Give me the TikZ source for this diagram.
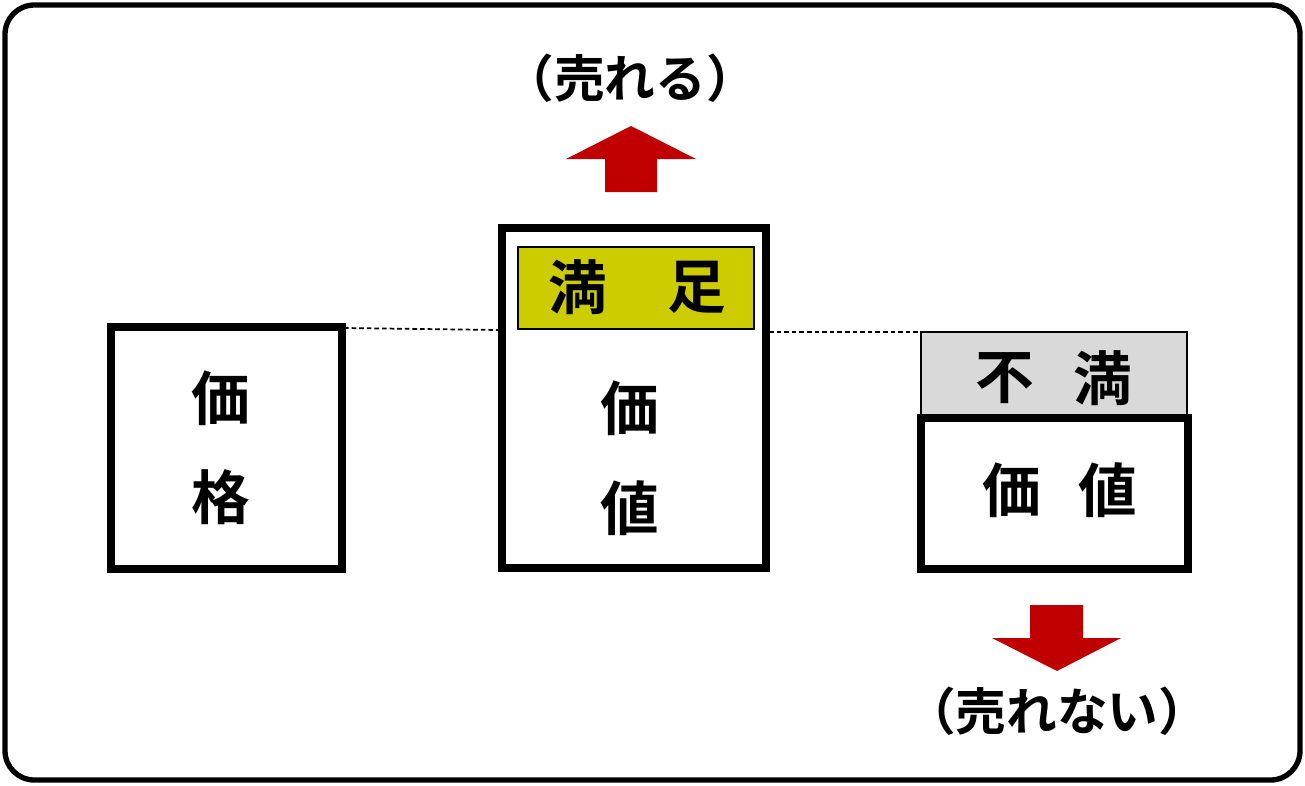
\documentclass[tikz,border=0pt]{standalone}
\usepackage{fontspec}
\newfontfamily\cjk{Noto Sans CJK JP}[BoldFont={Noto Sans CJK JP Bold}]
\definecolor{arrowred}{HTML}{C00000}
\definecolor{satis}{HTML}{CCCC00}
\definecolor{dissat}{HTML}{D9D9D9}
\begin{document}
\begin{tikzpicture}[x=0.75pt,y=-0.75pt,
  bigbox/.style={draw=black,line width=6pt,fill=white,outer sep=0pt,inner sep=0pt,anchor=north west},
  tagbox/.style={draw=black,line width=1.2pt,outer sep=0pt,inner sep=0pt,anchor=north west},
  bigtxt/.style={font=\cjk\bfseries\fontsize{44}{44}\selectfont,inner sep=0pt},
  lbltxt/.style={font=\cjk\bfseries\fontsize{38}{38}\selectfont,inner sep=0pt},
  guide/.style={dash pattern=on 3.5pt off 2.2pt,line width=1.3pt},
  redarrow/.style={fill=arrowred,draw=none}]
\useasboundingbox (0,0) rectangle (1305,785);
\draw[line width=4pt,rounded corners=22pt,fill=white] (5,5) rectangle (1300,780);
% left box
\node[bigbox,minimum width=231*0.75pt,minimum height=242*0.75pt] (price) at (110.5,326.5) {};
\node[bigtxt] (p1) at (221,398) {価};
\node[bigtxt] (p2) at (221,497) {格};
% middle box
\node[bigbox,minimum width=264*0.75pt,minimum height=340*0.75pt] (val) at (502,228) {};
\node[tagbox,fill=satis,minimum width=236*0.75pt,minimum height=82*0.75pt] (sat) at (518,247) {};
\node[bigtxt] (s1) at (578,287) {満};
\node[bigtxt] (s2) at (697,287) {足};
\node[bigtxt] (v1) at (630,408) {価};
\node[bigtxt] (v2) at (630,508) {値};
% right box
\node[tagbox,fill=dissat,minimum width=266*0.75pt,minimum height=83*0.75pt] (dis) at (921,332) {};
\node[bigbox,minimum width=267*0.75pt,minimum height=151*0.75pt] (val2) at (921,418) {};
\node[bigtxt] (d1) at (1005,378) {不};
\node[bigtxt] (d2) at (1103,378) {満};
\node[bigtxt] (w1) at (1012,490) {価};
\node[bigtxt] (w2) at (1108,490) {値};
% dashed guides
\coordinate (g1) at (344,328);
\coordinate (g2) at (499,330);
\coordinate (g3) at (769,332);
\draw[guide] (g1) -- (g2);
\draw[guide] (g3) -- (dis.north west);
% arrows
\fill[redarrow] (605,192) -- (605,159) -- (566,159) -- (631,126) -- (696,159) -- (657,159) -- (657,192) -- cycle;
\fill[redarrow] (1030,605) -- (1030,638) -- (992,638) -- (1057,671) -- (1121,638) -- (1083,638) -- (1083,605) -- cycle;
\node[lbltxt] (up) at (630,78) {（売れる）};
\node[lbltxt] (down) at (1057,711) {（売れない）};
\end{tikzpicture}
\end{document}
